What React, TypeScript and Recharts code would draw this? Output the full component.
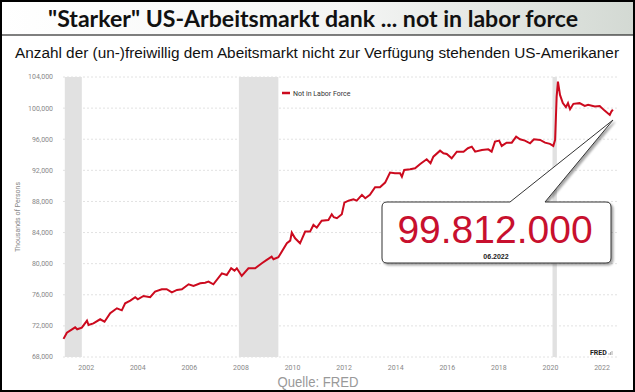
import React from 'react';
import {
  LineChart,
  Line,
  XAxis,
  YAxis,
  CartesianGrid,
  ReferenceArea,
} from 'recharts';

// decimal year of each reading
const years = [
  2001.12, 2001.25, 2001.45, 2001.57, 2001.65, 2001.83, 2002.03, 2002.09, 2002.28, 2002.54,
  2002.71, 2002.93, 2003.19, 2003.38, 2003.51, 2003.71, 2003.9, 2004.0, 2004.22, 2004.48,
  2004.67, 2004.93, 2005.12, 2005.32, 2005.52, 2005.71, 2005.97, 2006.16, 2006.42, 2006.61,
  2006.74, 2006.93, 2007.26, 2007.45, 2007.62, 2007.75, 2007.84, 2008.03, 2008.29, 2008.55,
  2008.81, 2009.0, 2009.19, 2009.26, 2009.45, 2009.78, 2009.91, 2009.97, 2010.1, 2010.29,
  2010.49, 2010.68, 2010.81, 2010.94, 2011.13, 2011.39, 2011.52, 2011.6, 2011.72, 2011.91,
  2012.01, 2012.17, 2012.36, 2012.49, 2012.69, 2012.82, 2013.0, 2013.2, 2013.39, 2013.59,
  2013.78, 2013.97, 2014.17, 2014.24, 2014.33, 2014.56, 2014.75, 2014.95, 2015.2, 2015.35,
  2015.46, 2015.72, 2015.85, 2015.98, 2016.17, 2016.37, 2016.63, 2016.8, 2016.95, 2017.08,
  2017.34, 2017.59, 2017.72, 2017.85, 2018.01, 2018.11, 2018.3, 2018.5, 2018.67, 2018.82,
  2019.01, 2019.21, 2019.36, 2019.6, 2019.79, 2019.98, 2020.11, 2020.18, 2020.24, 2020.29,
  2020.37, 2020.48, 2020.6, 2020.68, 2020.76, 2020.89, 2021.13, 2021.33, 2021.46, 2021.72,
  2021.91, 2022.1, 2022.3, 2022.36, 2022.42,
];

// Not in Labor Force, thousands of persons
const notInLaborForce = [
  70330, 71130, 71560, 71820, 71560, 71770, 72670, 72110, 72330, 72850,
  72540, 73620, 74260, 74000, 74900, 75240, 75680, 75420, 75850, 75680,
  76400, 76710, 76710, 76320, 76620, 76710, 77350, 77130, 77480, 77560,
  77690, 77350, 78760, 78550, 79410, 79100, 79410, 78420, 79410, 79410,
  80050, 80480, 80900, 80570, 80820, 82620, 82960, 83990, 83260, 82620,
  84120, 84120, 84980, 84630, 85530, 85620, 86350, 85970, 85840, 86350,
  87850, 88100, 88280, 88100, 88840, 88410, 88840, 89830, 89830, 90420,
  91710, 91630, 91630, 91190, 92050, 92140, 92270, 92820, 93430, 92910,
  93760, 94530, 94200, 94110, 93550, 94400, 94400, 94840, 95040, 94400,
  94620, 94700, 94400, 95690, 95820, 95140, 95560, 95560, 96330, 96000,
  95820, 95480, 96000, 95910, 95560, 95400, 95140, 95910, 101480, 103410,
  101700, 100640, 100120, 100640, 99860, 100550, 100640, 100280, 100420, 100200,
  100280, 99680, 99120, 99550, 99812,
];

const recessions = [
  [2001.17, 2001.83],
  [2007.92, 2009.45],
  [2020.08, 2020.25],
];

const xTicks = [2002, 2004, 2006, 2008, 2010, 2012, 2014, 2016, 2018, 2020, 2022];
const yTicks = [68000, 72000, 76000, 80000, 84000, 88000, 92000, 96000, 100000, 104000];

const data = years.map((t, i) => ({ t, v: notInLaborForce[i] }));

const RED = '#cc0a1e';

export default function App() {
  return (
    <div
      style={{
        position: 'relative',
        width: 635,
        height: 392,
        background: '#fff',
        overflow: 'hidden',
      }}
    >
      <style>{`body{margin:0}`}</style>

      {/* header */}
      <svg width={635} height={392} style={{ position: 'absolute', left: 0, top: 0 }}>
        <defs>
          <linearGradient id="hdr" x1="0" y1="0" x2="1" y2="0">
            <stop offset="0%" stopColor="#ffffff" />
            <stop offset="55%" stopColor="#f4f5f4" />
            <stop offset="100%" stopColor="#d3d9d3" />
          </linearGradient>
        </defs>
        <rect x={0} y={0} width={635} height={35} fill="url(#hdr)" />
        <line x1={0} y1={35} x2={635} y2={35} stroke="#000" strokeWidth={1} />
        <text
          x={313}
          y={27}
          textAnchor="middle"
          fontFamily="Lato, 'Open Sans', sans-serif"
          fontWeight="bold"
          fontSize={22}
          textLength={530}
          lengthAdjust="spacingAndGlyphs"
          fill="#111"
        >
          "Starker" US-Arbeitsmarkt dank ... not in labor force
        </text>
        <text
          x={317}
          y={58}
          textAnchor="middle"
          fontFamily="'Liberation Sans Narrow', 'Liberation Sans', sans-serif"
          fontSize={15.5}
          textLength={604}
          lengthAdjust="spacingAndGlyphs"
          fill="#111"
        >
          Anzahl der (un-)freiwillig dem Abeitsmarkt nicht zur Verfügung stehenden US-Amerikaner
        </text>
      </svg>

      <div style={{ position: 'absolute', left: 0, top: 0 }}>
        <LineChart
          width={635}
          height={392}
          data={data}
          margin={{ top: 77, right: 18, bottom: 23, left: 13 }}
        >
          <CartesianGrid vertical={false} stroke="#e2e2e2" strokeDasharray="2 2" />
          {recessions.map(([a, b], i) => (
            <ReferenceArea
              key={i}
              x1={a}
              x2={b}
              y1={68000}
              y2={104000}
              fill="#e1e1e1"
              fillOpacity={1}
              stroke="none"
            />
          ))}
          <XAxis
            dataKey="t"
            type="number"
            domain={[2001.1, 2022.58]}
            ticks={xTicks}
            height={12}
            axisLine={false}
            tickLine={false}
            tick={{ fill: '#888', fontSize: 7, fontFamily: 'Roboto, sans-serif' }}
          />
          <YAxis
            type="number"
            domain={[68000, 104000]}
            ticks={yTicks}
            width={50}
            axisLine={false}
            tickLine={false}
            tickMargin={4}
            tickFormatter={(v: number) => v.toLocaleString('en-US')}
            tick={{ fill: '#888', fontSize: 7, fontFamily: 'Roboto, sans-serif' }}
          />
          <Line
            type="linear"
            dataKey="v"
            stroke={RED}
            strokeWidth={2}
            dot={false}
            activeDot={false}
            isAnimationActive={false}
          />
        </LineChart>
      </div>

      {/* annotations */}
      <svg width={635} height={392} style={{ position: 'absolute', left: 0, top: 0 }}>
        <defs>
          <filter id="sh" x="-10%" y="-10%" width="130%" height="140%">
            <feDropShadow dx={2} dy={2} stdDeviation={1.2} floodColor="#000" floodOpacity={0.35} />
          </filter>
        </defs>
        <text
          x={20}
          y={217}
          transform="rotate(-90 20 217)"
          textAnchor="middle"
          fontFamily="Roboto, sans-serif"
          fontSize={7}
          fill="#888"
        >
          Thousands of Persons
        </text>

        {/* legend */}
        <line x1={282} y1={93} x2={290} y2={93} stroke={RED} strokeWidth={2.5} />
        <text x={293} y={95.5} fontFamily="Roboto, sans-serif" fontSize={7} fill="#333">
          Not in Labor Force
        </text>

        {/* FRED mark */}
        <text x={590} y={355} fontFamily="Roboto, sans-serif" fontWeight="bold" fontSize={7} fill="#222">
          FRED
        </text>
        <path d="M609 355 v-2 M610.5 355 v-3 M612 355 v-4" stroke="#999" strokeWidth={0.8} />

        {/* callout */}
        <path
          d="M387 202 L510 202 L613 120 L545 202 L606 202 Q611 202 611 207 L611 258 Q611 263 606 263 L387 263 Q382 263 382 258 L382 207 Q382 202 387 202 Z"
          fill="#fff"
          stroke="#333"
          strokeWidth={1}
          filter="url(#sh)"
        />
        <text
          x={495}
          y={243}
          textAnchor="middle"
          fontFamily="'Liberation Sans', Arial, sans-serif"
          fontSize={39}
          fill="#c8102e"
        >
          99.812.000
        </text>
        <text
          x={496}
          y={259}
          textAnchor="middle"
          fontFamily="'Liberation Sans', Arial, sans-serif"
          fontWeight="bold"
          fontSize={7}
          fill="#222"
        >
          06.2022
        </text>

        <text
          x={318}
          y={387}
          textAnchor="middle"
          fontFamily="'Liberation Sans Narrow', 'Liberation Sans', sans-serif"
          fontSize={15}
          textLength={81}
          lengthAdjust="spacingAndGlyphs"
          fill="#999"
        >
          Quelle: FRED
        </text>

        <rect x={1} y={1} width={633} height={390} fill="none" stroke="#000" strokeWidth={2} />
      </svg>
    </div>
  );
}
